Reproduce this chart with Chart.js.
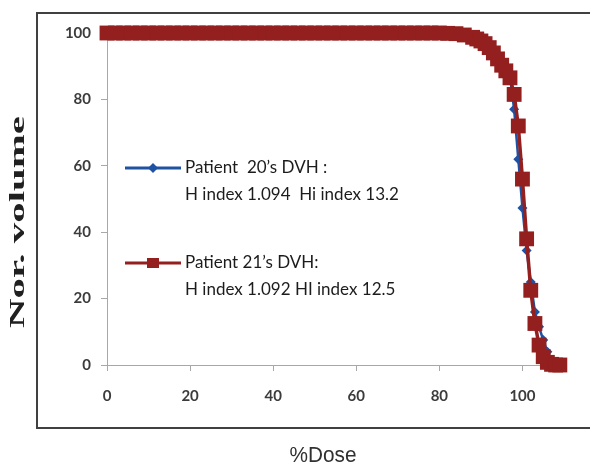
<!DOCTYPE html>
<html>
<head>
<meta charset="utf-8">
<script src="https://cdn.jsdelivr.net/npm/chart.js@4.4.1/dist/chart.umd.min.js"></script>
<style>
  html, body { margin: 0; padding: 0; background: #fff; }
  canvas { display: block; }
</style>
</head>
<body>
<canvas id="dvh-chart" width="590" height="470"></canvas>
<script>
// dose points (%), shared by both curves
const doseLevels = [
    0, 2, 4, 6, 8, 10, 12, 14, 16, 18, 20, 22, 24, 26, 28, 30, 32, 34, 36, 38,
    40, 42, 44, 46, 48, 50, 52, 54, 56, 58, 60, 62, 64, 66, 68, 70, 72, 74, 76, 78,
    80, 82, 84, 86, 88, 89, 90, 91, 92, 93, 94, 95, 96, 97, 98, 99,
    100, 101, 102, 103, 104, 105, 106, 107, 108, 109
];

// normalised volume (%) for patient 20
const volumePatient20 = [
    100, 100, 100, 100, 100, 100, 100, 100, 100, 100, 100, 100, 100, 100, 100, 100, 100, 100, 100, 100,
    100, 100, 100, 100, 100, 100, 100, 100, 100, 100, 100, 100, 100, 100, 100, 100, 100, 100, 100, 100,
    100, 99.9, 99.8, 99.5, 99, 98.6, 98.1, 97.4, 96.4, 95, 93.4, 91.6, 89.6, 86.8, 77, 62,
    47.3, 34.5, 25, 16, 11.5, 7.5, 4, 1.5, 0.3, 0
];

// normalised volume (%) for patient 21
const volumePatient21 = [
    100, 100, 100, 100, 100, 100, 100, 100, 100, 100, 100, 100, 100, 100, 100, 100, 100, 100, 100, 100,
    100, 100, 100, 100, 100, 100, 100, 100, 100, 100, 100, 100, 100, 100, 100, 100, 100, 100, 100, 100,
    100, 99.9, 99.8, 99.4, 98.7, 98.2, 97.6, 96.8, 95.6, 94, 92.2, 90.3, 88.6, 86.5, 81.5, 72,
    56, 38, 22.5, 12.5, 6, 2.5, 0.8, 0.2, 0, 0
];

const xTicks = [0, 20, 40, 60, 80, 100];
const yTicks = [0, 20, 40, 60, 80, 100];

const legendLines = [
    ['Patient  20\u2019s DVH :', 'H index 1.094  Hi index 13.2'],
    ['Patient 21\u2019s DVH:', 'H index 1.092 HI index 12.5'],
];

const COLORS = {
    blue: '#1f52a2',
    red: '#93201f',
    axis: '#a8a8a8',
    tick: '#3c3c3c',
    text: '#1c1c1c',
    frame: '#404040',
};

const toPoints = (xs, ys) => xs.map((x, i) => ({ x, y: ys[i] }));

// outer frame, axis titles and the in-plot legend
const decorations = {
    id: 'decorations',
    afterDraw(chart) {
        const ctx = chart.ctx;
        const area = chart.chartArea;
        ctx.save();

        // frame (open on the right)
        ctx.strokeStyle = COLORS.frame;
        ctx.lineWidth = 2;
        ctx.strokeRect(37, 13, 620, 415);

        // y title, stretched along its length
        ctx.fillStyle = '#202020';
        ctx.font = 'bold 20px "Liberation Serif"';
        ctx.textAlign = 'center';
        ctx.textBaseline = 'middle';
        const yTitle = 'Nor. volume';
        const yw = ctx.measureText(yTitle).width;
        ctx.save();
        ctx.translate(19, 222);
        ctx.rotate(-Math.PI / 2);
        ctx.scale(212 / yw, 1);
        ctx.fillText(yTitle, 0, 0);
        ctx.restore();

        // x title
        ctx.fillStyle = '#303030';
        ctx.font = '22px "Liberation Sans"';
        const xTitle = '%Dose';
        const xw = ctx.measureText(xTitle).width;
        ctx.save();
        ctx.translate(323, 456);
        ctx.scale(67 / xw, 1);
        ctx.fillText(xTitle, 0, 0);
        ctx.restore();

        // legend
        const lx = area.left + 18;
        const rows = [
            { y: area.top + 135, color: COLORS.blue, marker: 'diamond', text: legendLines[0] },
            { y: area.top + 230, color: COLORS.red, marker: 'square', text: legendLines[1] },
        ];
        ctx.textAlign = 'left';
        ctx.font = '17px Lato';
        rows.forEach(row => {
            ctx.strokeStyle = row.color;
            ctx.fillStyle = row.color;
            ctx.lineWidth = 3;
            ctx.beginPath();
            ctx.moveTo(lx, row.y);
            ctx.lineTo(lx + 56, row.y);
            ctx.stroke();
            const mx = lx + 28;
            ctx.beginPath();
            if (row.marker === 'diamond') {
                ctx.moveTo(mx, row.y - 5);
                ctx.lineTo(mx + 5, row.y);
                ctx.lineTo(mx, row.y + 5);
                ctx.lineTo(mx - 5, row.y);
                ctx.closePath();
            } else {
                ctx.rect(mx - 6, row.y - 5, 12, 10);
            }
            ctx.fill();
            ctx.fillStyle = COLORS.text;
            ctx.fillText(row.text[0], lx + 60, row.y);
            ctx.fillText(row.text[1], lx + 60, row.y + 27);
        });

        ctx.restore();
    },
};

const axisTicks = (values) => ({
    color: COLORS.tick,
    font: { family: 'Lato', size: 15, weight: 'bold' },
    stepSize: 20,
    includeBounds: false,
    autoSkip: false,
    maxRotation: 0,
    callback: v => (values.includes(v) ? String(v) : ''),
});

new Chart(document.getElementById('dvh-chart'), {
    type: 'line',
    data: {
        datasets: [
            {
                label: legendLines[0][0],
                data: toPoints(doseLevels, volumePatient20),
                borderColor: COLORS.blue,
                backgroundColor: COLORS.blue,
                borderWidth: 2.5,
                pointStyle: 'rectRot',
                pointRadius: 5,
                pointBorderWidth: 0,
                tension: 0,
                clip: false,
                order: 1,
            },
            {
                label: legendLines[1][0],
                data: toPoints(doseLevels, volumePatient21),
                borderColor: COLORS.red,
                backgroundColor: COLORS.red,
                borderWidth: 3.5,
                pointStyle: 'rect',
                pointRadius: 10.5,
                pointBorderWidth: 0,
                tension: 0,
                clip: false,
                order: 0,
            },
        ],
    },
    options: {
        responsive: false,
        animation: false,
        layout: { padding: { left: 40, top: 33, right: 26, bottom: 0 } },
        plugins: {
            legend: { display: false },
            tooltip: { enabled: false },
        },
        scales: {
            x: {
                type: 'linear',
                min: 0,
                max: 110,
                afterFit(scale) { scale.height = 105; },
                grid: { display: true, drawOnChartArea: false, drawTicks: true, tickLength: 6, color: COLORS.axis },
                border: { display: true, color: COLORS.axis, width: 1 },
                ticks: { ...axisTicks(xTicks), padding: 16 },
            },
            y: {
                type: 'linear',
                min: 0,
                max: 100,
                afterFit(scale) { scale.width = 67; },
                grid: { display: true, drawOnChartArea: false, drawTicks: true, tickLength: 6, color: COLORS.axis },
                border: { display: true, color: COLORS.axis, width: 1 },
                ticks: { ...axisTicks(yTicks), padding: 10 },
            },
        },
    },
    plugins: [decorations],
});
</script>
</body>
</html>
